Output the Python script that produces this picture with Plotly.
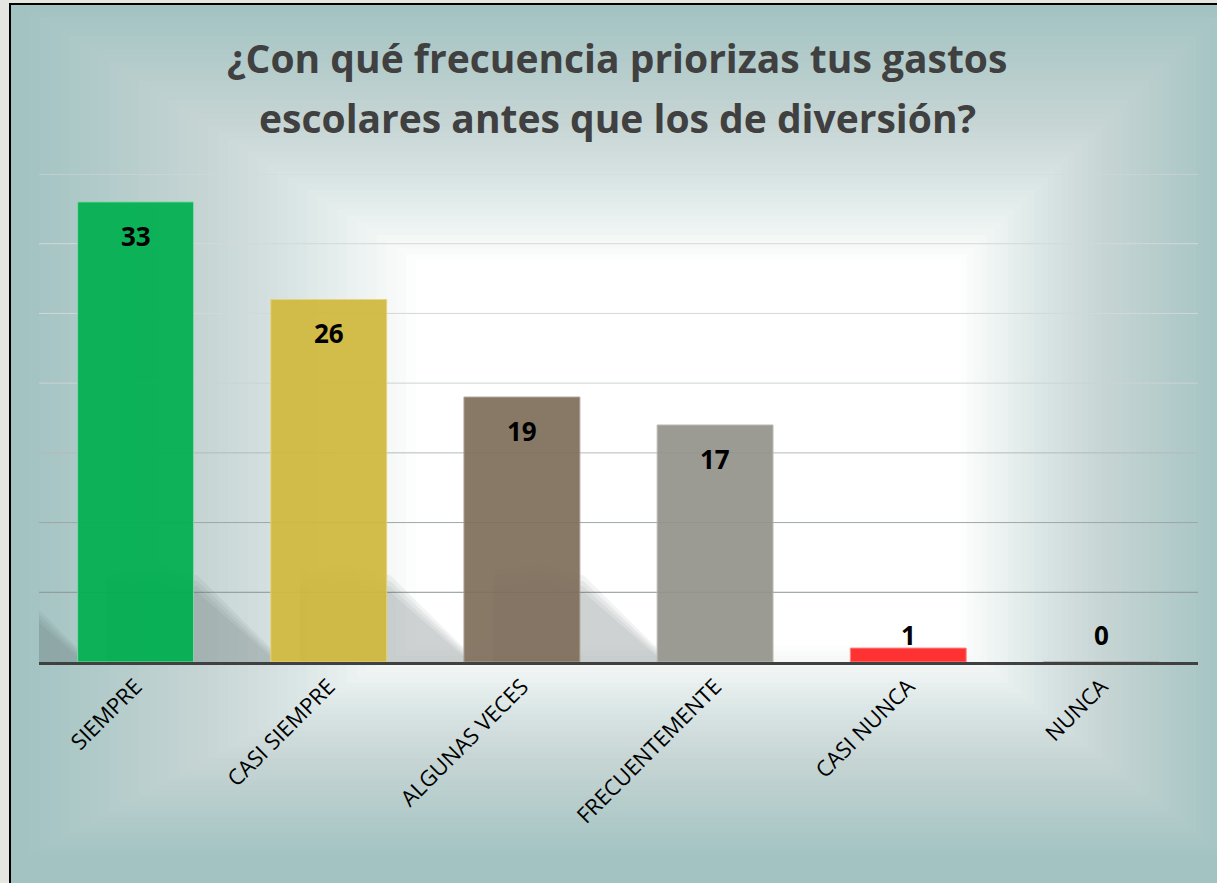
import plotly.graph_objects as go

categorias = ["SIEMPRE", "CASI SIEMPRE", "ALGUNAS VECES", "FRECUENTEMENTE", "CASI NUNCA", "NUNCA"]
respuestas = [33, 26, 19, 17, 1, 0]
colores = ["#00B050", "#D1B93E", "#7F6F5C", "#94948C", "#FF2323", "#A6A6A6"]
bordes = ["#7FD8A6", "#E6D27A", "#A89A88", "#B8B8B2", "#FF8080", "#A6A6A6"]
# desplazamiento (px) de cada etiqueta respecto al extremo de la barra
desplaz_etiqueta = [-34, -34, -34, -34, 13, 27]
# lineas de division del eje y, de abajo hacia arriba
lineas_y = [5, 10, 15, 20, 25, 30, 35]
color_lineas = ["#8A9393", "#9EA6A6", "#B4BBBB", "#CDD3D3", "#D3D8D8", "#D3D8D8", "#D3D8D8"]

W, H = 1217, 883
x_dom = [39 / W, 1198 / W]
y_dom = [(H - 662) / H, (H - 174) / H]

fig = go.Figure()

fig.add_trace(go.Bar(
    x=list(range(len(categorias))),
    y=respuestas,
    width=0.6,
    marker=dict(color=colores, line=dict(color=bordes, width=1)),
    opacity=0.93,
    hoverinfo="x+y",
))

shapes = []

# fondo del grafico: degradado rectangular (verde azulado en los bordes, blanco al centro)
shapes.append(dict(type="rect", xref="paper", yref="paper",
                   x0=10 / W, x1=1.01, y0=-0.01, y1=1 - 4 / H,
                   fillcolor="#A2C3C2", line_width=0, layer="below"))
cx, cy = 740, 470
izq, der, arr, aba = 720, 490, 466, 390
n = 40
prev = 0.0
for k in range(1, n + 1):
    f = 1 - 0.55 * k / n
    objetivo = min(1.0, (1 - f) / 0.55)
    op = (objetivo - prev) / (1 - prev) if prev < 1 else 0
    prev = objetivo
    shapes.append(dict(type="rect", xref="paper", yref="paper",
                       x0=(cx - izq * f) / W, x1=(cx + der * f) / W,
                       y0=1 - (cy + aba * f) / H, y1=1 - (cy - arr * f) / H,
                       fillcolor="white", opacity=round(op, 4), line_width=0, layer="below"))

# sombras de las barras
for i, v in enumerate(respuestas):
    if v < 5:
        continue
    L = i - 0.3
    for off in [0.0, 0.4, 0.8, 1.2]:
        shapes.append(dict(
            type="path", xref="x", yref="y", layer="below",
            path=(f"M {L},0 L {L},{1.0 - off * 0.5} L {L - 0.38},{6.2 - off} "
                  f"L {L - 0.6},{7.0 - off} L {L - 0.85},{6.6 - off} L {L - 0.85},0 Z"),
            fillcolor="rgba(70,80,80,0.07)", line_width=0))

# lineas de division
for val, col in zip(lineas_y, color_lineas):
    shapes.append(dict(type="line", xref="paper", yref="y", layer="below",
                       x0=x_dom[0], x1=x_dom[1], y0=val, y1=val,
                       line=dict(color=col, width=1)))

# marco
shapes.append(dict(type="line", xref="paper", yref="paper",
                   x0=10 / W, x1=10 / W, y0=-0.01, y1=1 - 3 / H,
                   line=dict(color="black", width=2), layer="below"))
shapes.append(dict(type="line", xref="paper", yref="paper",
                   x0=9 / W, x1=1.01, y0=1 - 4 / H, y1=1 - 4 / H,
                   line=dict(color="black", width=2), layer="below"))

annotations = []
for i, v in enumerate(respuestas):
    annotations.append(dict(
        x=i, y=v, xref="x", yref="y", text=f"<b>{v}</b>",
        showarrow=False, yshift=desplaz_etiqueta[i],
        font=dict(family="Open Sans", size=26, color="black"),
    ))

annotations.append(dict(
    x=617 / W, y=1 - 57 / H, xref="paper", yref="paper",
    xanchor="center", yanchor="middle",
    text="<b>¿Con qué frecuencia priorizas tus gastos</b>", showarrow=False,
    font=dict(family="Open Sans", size=39, color="#404040"),
))
annotations.append(dict(
    x=617 / W, y=1 - 117 / H, xref="paper", yref="paper",
    xanchor="center", yanchor="middle",
    text="<b>escolares antes que los de diversión?</b>", showarrow=False,
    font=dict(family="Open Sans", size=39, color="#404040"),
))

fig.update_layout(
    width=W,
    height=H,
    margin=dict(l=0, r=0, t=0, b=0),
    paper_bgcolor="#E5E5E1",
    plot_bgcolor="rgba(0,0,0,0)",
    showlegend=False,
    shapes=shapes,
    annotations=annotations,
    xaxis=dict(
        domain=x_dom,
        range=[-0.5, len(categorias) - 0.5],
        tickmode="array",
        tickvals=list(range(len(categorias))),
        ticktext=categorias,
        tickangle=-45,
        tickfont=dict(family="Open Sans", size=22, color="black"),
        showgrid=False,
        showline=True,
        linecolor="#404040",
        linewidth=3,
        ticks="",
        zeroline=False,
    ),
    yaxis=dict(
        domain=y_dom,
        range=[0, 35],
        showticklabels=False,
        showgrid=False,
        zeroline=False,
    ),
)

fig.write_html("out.html", config={"displayModeBar": False},
               post_script="document.body.style.margin='0px';")
